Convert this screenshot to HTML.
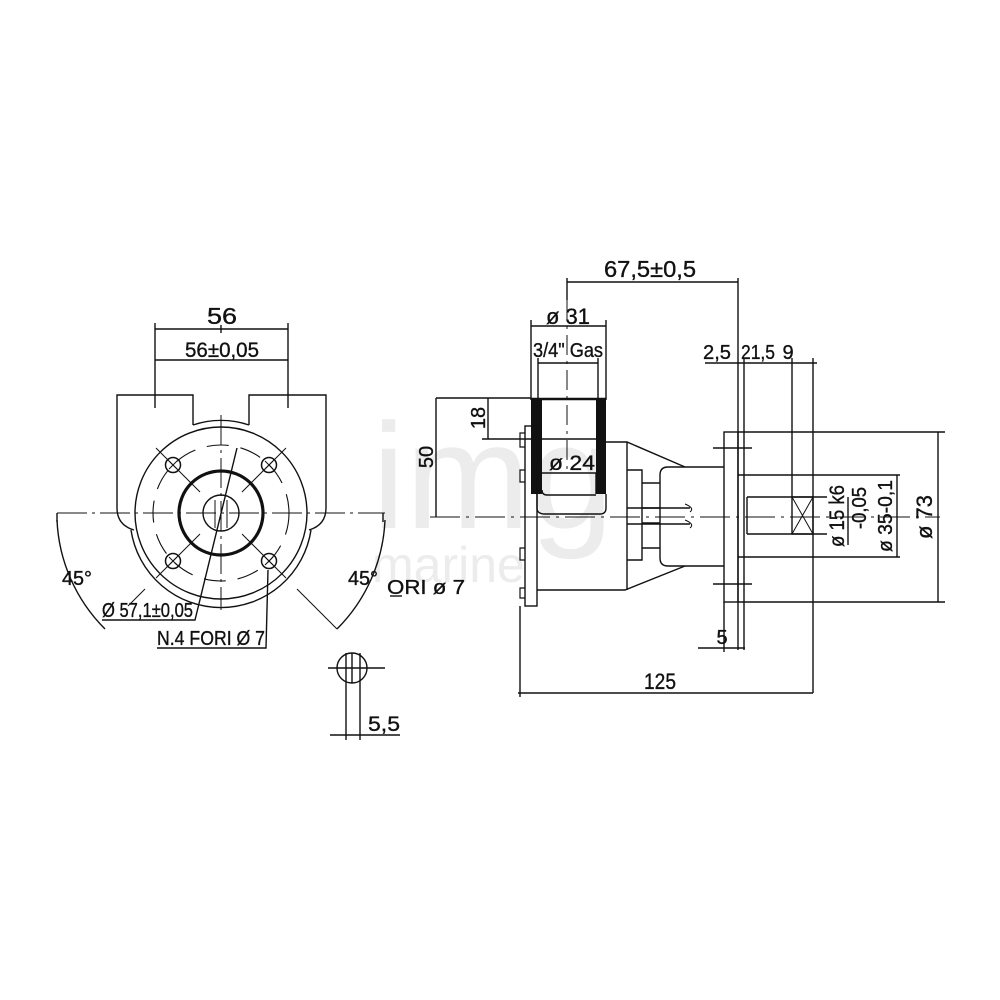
<!DOCTYPE html>
<html><head><meta charset="utf-8"><style>
html,body{margin:0;padding:0;background:#fff}
svg{display:block}
text{font-family:"Liberation Sans",sans-serif;fill:#111}
</style></head><body>
<svg width="1000" height="1000" viewBox="0 0 1000 1000" xmlns="http://www.w3.org/2000/svg">
<rect width="1000" height="1000" fill="#fff"/>
<!-- watermark -->
<text x="372" y="528" font-family="Liberation Serif" font-size="150" style="fill:#ececec">img</text>
<text x="372" y="582" font-family="Liberation Serif" font-size="50" style="fill:#ececec">marine</text>

<g stroke="#111" stroke-width="1.4" fill="none">
<!-- ===== LEFT VIEW ===== -->
<line x1="155" y1="329" x2="288" y2="329"/>
<line x1="155" y1="360" x2="288" y2="360"/>
<line x1="155" y1="323" x2="155" y2="408"/>
<line x1="288" y1="323" x2="288" y2="408"/>
<line x1="221" y1="325" x2="221" y2="333"/>
<path d="M193,425 L193,395 L117,395 L117,508 Q117,525 134,530"/>
<path d="M249,425 L249,395 L326,395 L326,508 Q326,525 309,530"/>
<path d="M193,425 A88,88 0 0 1 249,425"/>
<circle cx="221" cy="513" r="86"/>
<path d="M131,530 A91,91 0 0 0 311,530"/>
<circle cx="221" cy="513" r="68" stroke-dasharray="22,12" stroke-width="1.1"/>
<g stroke-width="1.5">
<circle cx="173" cy="465" r="7.5"/><circle cx="269" cy="465" r="7.5"/>
<circle cx="173" cy="561" r="7.5"/><circle cx="269" cy="561" r="7.5"/>
</g>
<g stroke-width="1">
<path d="M169,461l8,8M177,461l-8,8M265,461l8,8M273,461l-8,8M169,557l8,8M177,557l-8,8M265,557l8,8M273,557l-8,8"/>
</g>
<circle cx="221" cy="513" r="42" stroke-width="3.2"/>
<circle cx="221" cy="513" r="18"/>
<path d="M215,500 L215,528 M227,500 L227,528" stroke-width="1"/>
<line x1="57" y1="513" x2="385" y2="513" stroke-dasharray="30,5,3,5" stroke-width="1"/>
<line x1="221" y1="415" x2="221" y2="610" stroke-dasharray="30,5,3,5" stroke-width="1"/>
<line x1="57" y1="513" x2="57" y2="522"/>
<line x1="383" y1="513" x2="383" y2="522"/>
<path d="M156,448 L200,492 M242,534 L286,578 M286,448 L242,492 M200,534 L156,578" stroke-width="1"/>
<path d="M145,589 L128,606 M297,589 L337,629" stroke-width="1"/>
<path d="M57,520 A164,164 0 0 0 105,629"/>
<path d="M385,520 A164,164 0 0 1 337,629"/>
<polyline points="102,620 195,620 237,448"/>
<polyline points="157,648 266,648 268,570"/>
<!-- ===== SMALL SYMBOL ===== -->
<circle cx="352" cy="668" r="15"/>
<line x1="328" y1="668" x2="385" y2="668"/>
<line x1="346" y1="653" x2="346" y2="740"/>
<line x1="352" y1="653" x2="352" y2="683"/>
<line x1="360" y1="653" x2="360" y2="740"/>
<line x1="330" y1="735" x2="400" y2="735"/>
<line x1="390" y1="596" x2="402" y2="596"/>

<!-- ===== RIGHT VIEW ===== -->
<line x1="567" y1="282" x2="738" y2="282"/>
<line x1="567" y1="278" x2="567" y2="300"/>
<line x1="738" y1="278" x2="738" y2="650"/>
<line x1="531" y1="326" x2="606" y2="326"/>
<line x1="531" y1="320" x2="531" y2="400"/>
<line x1="606" y1="320" x2="606" y2="400"/>
<line x1="538" y1="363" x2="598" y2="363"/>
<line x1="538" y1="358" x2="538" y2="400"/>
<line x1="598" y1="358" x2="598" y2="400"/>
<rect x="531" y="398" width="11" height="96" fill="#111" stroke="none"/>
<rect x="596" y="398" width="10" height="96" fill="#111" stroke="none"/>
<line x1="531" y1="399" x2="606" y2="399" stroke-width="2.5"/>
<line x1="542" y1="439" x2="596" y2="439"/>
<path d="M542,473 L596,473 L596,494"/>
<path d="M542,490 Q542,495 547,495 L596,495"/>
<path d="M537,494 L537,508 Q537,514 545,514 L600,514 Q606,514 606,508 L606,494"/>
<line x1="488" y1="398" x2="488" y2="439"/>
<line x1="482" y1="439" x2="531" y2="439"/>
<line x1="436" y1="398" x2="531" y2="398"/>
<line x1="436" y1="398" x2="436" y2="517"/>
<line x1="430" y1="517" x2="940" y2="517" stroke-dasharray="30,6,3,6" stroke-width="1"/>
<line x1="567" y1="300" x2="567" y2="470" stroke-dasharray="20,6,3,6" stroke-width="1"/>
<rect x="525" y="426" width="12" height="180"/>
<path d="M525,433 h-5 v14 h5 M525,470 h-5 v12 h5 M525,548 h-5 v12 h5 M525,588 h-5 v10 h5" stroke-width="1.2"/>
<path d="M606,442 L627,442 L685,467"/>
<path d="M537,590 L625,590 L685,566"/>
<line x1="627" y1="442" x2="627" y2="590"/>
<path d="M627,470 L642,470 L642,560 L627,560"/>
<path d="M642,483 L660,483 M642,508 L660,508 M642,523 L660,523 M642,548 L660,548"/>
<path d="M724,467 L668,467 Q660,467 660,475 L660,558 Q660,566 668,566 L724,566"/>
<path d="M627,508 L690,508 M627,524 L690,524" />
<path d="M685,504 Q695,508 690,512 M685,520 Q695,524 690,528" stroke-width="1"/>
<rect x="724" y="432" width="14" height="170"/>
<path d="M713,448 L752,448 M713,584 L752,584"/>
<path d="M738,475 L900,475 M738,557 L900,557"/>
<path d="M747,497 L827,497 M747,534 L827,534"/>
<line x1="747" y1="497" x2="747" y2="534"/>
<rect x="792" y="497" width="21" height="37"/>
<path d="M792,497 L813,534 M813,497 L792,534" stroke-width="1"/>
<line x1="744" y1="358" x2="744" y2="650"/>
<line x1="792" y1="358" x2="792" y2="497"/>
<line x1="813" y1="358" x2="813" y2="693"/>
<line x1="705" y1="363" x2="817" y2="363"/>
<line x1="897" y1="475" x2="897" y2="557"/>
<line x1="848" y1="497" x2="848" y2="545"/>
<path d="M738,432 L945,432 M738,602 L945,602"/>
<line x1="938" y1="432" x2="938" y2="602"/>
<line x1="698" y1="648" x2="745" y2="648"/>
<line x1="724" y1="602" x2="724" y2="652"/>
<line x1="518" y1="693" x2="813" y2="693"/>
<line x1="520" y1="606" x2="520" y2="697"/>
</g>

<!-- TEXT -->
<g font-size="21" stroke="#111" stroke-width="0.35" lengthAdjust="spacingAndGlyphs">
<text x="222" y="324" text-anchor="middle" font-size="23" textLength="30" lengthAdjust="spacingAndGlyphs">56</text>
<text x="222" y="357" text-anchor="middle" textLength="74" lengthAdjust="spacingAndGlyphs">56±0,05</text>
<text x="62" y="585" font-size="20" textLength="30" lengthAdjust="spacingAndGlyphs">45°</text>
<text x="348" y="585" font-size="20" textLength="30" lengthAdjust="spacingAndGlyphs">45°</text>
<text x="102" y="617" font-size="20" textLength="91" lengthAdjust="spacingAndGlyphs">Ø 57,1±0,05</text>
<text x="157" y="645" font-size="20" textLength="108" lengthAdjust="spacingAndGlyphs">N.4 FORI Ø 7</text>
<text x="387" y="594" font-size="20" textLength="78" lengthAdjust="spacingAndGlyphs">ORI ø 7</text>
<text x="368" y="731" textLength="32" lengthAdjust="spacingAndGlyphs">5,5</text>
<text x="650" y="277" text-anchor="middle" font-size="23" textLength="92" lengthAdjust="spacingAndGlyphs">67,5±0,5</text>
<text x="568" y="324" text-anchor="middle" font-size="22" textLength="44" lengthAdjust="spacingAndGlyphs">ø 31</text>
<text x="568" y="357" text-anchor="middle" font-size="20" textLength="70" lengthAdjust="spacingAndGlyphs">3/4" Gas</text>
<text x="572" y="470" text-anchor="middle" textLength="46" lengthAdjust="spacingAndGlyphs">ø 24</text>
<text x="717" y="359" text-anchor="middle" font-size="20" textLength="28" lengthAdjust="spacingAndGlyphs">2,5</text>
<text x="758" y="359" text-anchor="middle" font-size="20" textLength="34" lengthAdjust="spacingAndGlyphs">21,5</text>
<text x="788" y="359" text-anchor="middle" font-size="20">9</text>
<text x="722" y="644" text-anchor="middle" font-size="20">5</text>
<text x="660" y="689" text-anchor="middle" font-size="22" textLength="32" lengthAdjust="spacingAndGlyphs">125</text>
<text transform="translate(485,418) rotate(-90)" text-anchor="middle" font-size="20">18</text>
<text transform="translate(433,457) rotate(-90)" text-anchor="middle" font-size="20">50</text>
<text transform="translate(844,516) rotate(-90)" text-anchor="middle" textLength="62" lengthAdjust="spacingAndGlyphs">ø 15 k6</text>
<text transform="translate(866,508) rotate(-90)" text-anchor="middle" font-size="20" textLength="42" lengthAdjust="spacingAndGlyphs">-0,05</text>
<text transform="translate(892,516) rotate(-90)" text-anchor="middle" font-size="20" textLength="72" lengthAdjust="spacingAndGlyphs">ø 35-0,1</text>
<text transform="translate(932,517) rotate(-90)" text-anchor="middle" font-size="22" textLength="44" lengthAdjust="spacingAndGlyphs">ø 73</text>
</g>
</svg>
</body></html>
